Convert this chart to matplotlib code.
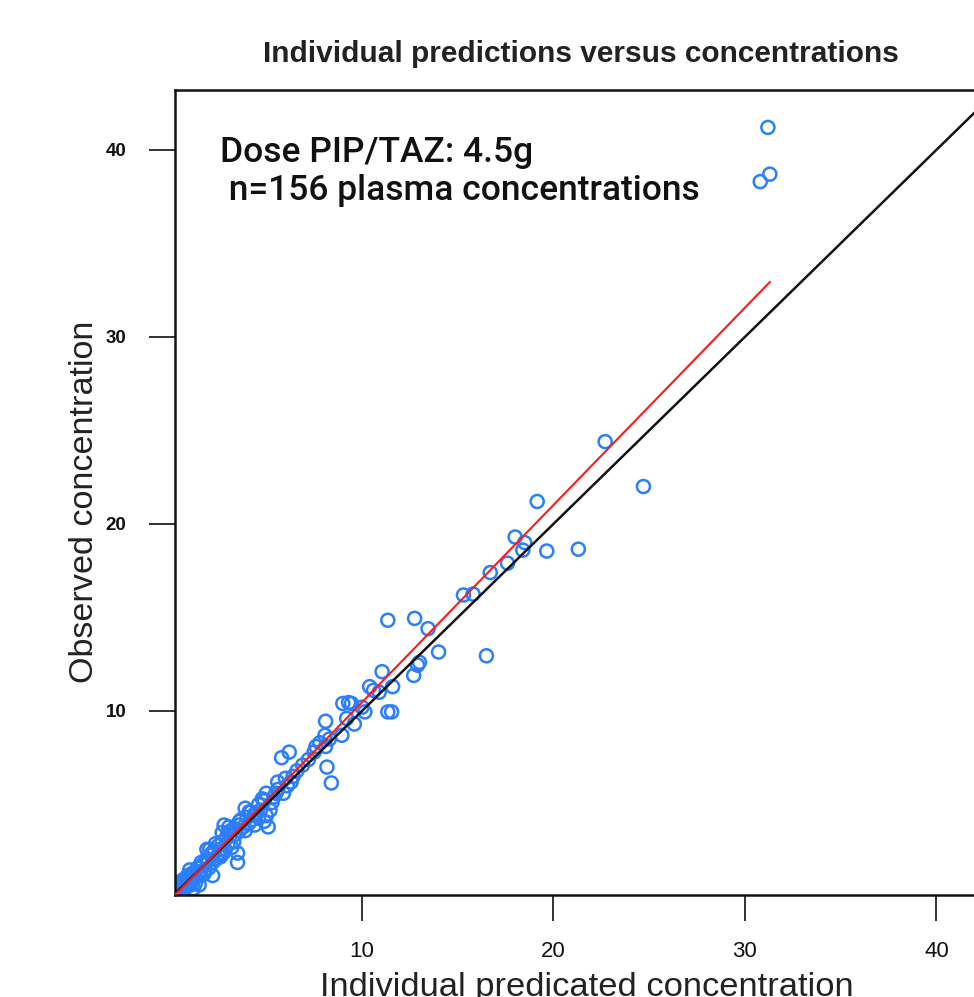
import numpy as np
import matplotlib
matplotlib.use("Agg")
import matplotlib.pyplot as plt

# individual predicted vs observed concentrations
pred_high = [31.2, 30.8, 31.3, 22.7, 24.7, 19.15, 18.0, 18.5, 18.4, 19.65,
             21.3, 17.6, 16.7, 15.3, 15.8, 16.5, 14.0, 13.45, 12.75, 11.35,
             12.9, 12.7, 13.0, 11.05, 11.6, 10.4, 10.6, 10.9, 11.35, 11.55,
             10.15, 10.0]
obs_high = [41.2, 38.3, 38.7, 24.4, 22.0, 21.2, 19.3, 19.0, 18.6, 18.55,
            18.65, 17.9, 17.4, 16.2, 16.25, 12.95, 13.15, 14.4, 14.95, 14.85,
            12.45, 11.9, 12.6, 12.1, 11.3, 11.3, 11.1, 11.0, 9.95, 9.95,
            9.95, 10.2]

pred_mid = [9.0, 9.45, 9.3, 9.2, 9.6, 8.1, 8.95, 8.07, 7.8, 7.6,
            8.1, 8.3, 8.17, 8.4, 5.8, 6.2, 6.9, 5.6, 6.4, 6.1,
            6.3, 5.0, 5.9, 5.4, 5.2, 4.9, 5.1, 4.5, 3.9, 4.3,
            3.6, 2.8, 2.7, 3.5, 3.5, 3.2, 1.9, 2.2, 2.2, 1.0,
            0.7, 1.5]
obs_mid = [10.4, 10.4, 10.45, 9.6, 9.3, 9.45, 8.7, 8.7, 8.3, 8.1,
           8.1, 8.5, 7.0, 6.15, 7.5, 7.8, 7.1, 6.2, 6.5, 6.0,
           6.2, 5.6, 5.6, 5.4, 4.7, 4.1, 3.8, 4.5, 4.8, 4.2,
           3.9, 3.9, 3.5, 2.4, 1.9, 2.7, 2.6, 1.9, 1.2, 1.5,
           1.0, 0.7]

pred_low = [0.3, 0.4, 0.5, 0.5, 0.6, 0.7, 0.8, 0.8, 0.9, 1.0,
            1.1, 1.2, 1.2, 1.3, 1.4, 1.5, 1.6, 1.7, 1.8, 2.0,
            2.0, 2.1, 2.3, 2.4, 2.5, 2.5, 2.6, 2.7, 2.9, 3.0,
            3.0, 3.1, 3.3, 3.4, 3.6, 3.7, 3.8, 4.0, 4.1, 4.2,
            4.4, 4.6, 4.7, 4.8, 5.3, 5.5, 0.2, 0.35, 0.45, 0.6,
            0.65, 0.9, 1.1, 1.3, 1.6, 1.75, 1.9, 2.05, 2.35, 2.6,
            2.85, 3.05, 3.3, 3.6, 3.9, 4.1, 4.4, 4.6, 4.9, 5.0,
            5.6, 6.0, 6.6, 7.2, 7.5, 0.25, 0.55, 1.05, 1.45, 2.15,
            2.75, 3.15]
obs_low = [0.3, 0.5, 0.4, 0.7, 0.6, 0.9, 0.6, 1.0, 0.8, 1.1,
           0.9, 1.3, 0.5, 1.1, 1.6, 1.4, 1.2, 1.8, 1.5, 2.0,
           1.6, 2.3, 2.5, 2.1, 2.8, 2.3, 2.6, 3.0, 3.2, 2.9,
           3.5, 3.3, 3.7, 3.4, 3.6, 4.2, 3.8, 4.3, 4.0, 4.6,
           4.5, 4.3, 4.7, 5.3, 5.1, 5.6, 0.25, 0.2, 0.3, 0.3,
           0.8, 1.2, 1.3, 0.8, 1.9, 1.3, 2.1, 2.6, 2.9, 2.2,
           2.6, 3.8, 3.0, 4.1, 3.6, 4.6, 3.9, 5.0, 5.2, 4.4,
           5.8, 6.4, 6.8, 7.4, 7.8, 0.4, 0.9, 0.7, 1.2, 2.4,
           2.4, 3.6]

# regression line (red) as drawn in the picture
fit_slope = 1.055
fit_intercept = -0.09

title = "Individual predictions versus concentrations"
note1 = "Dose PIP/TAZ: 4.5g"
note2 = " n=156 plasma concentrations"
xlab = "Individual predicated concentration"
ylab = "Observed concentration"
ticks = [10, 20, 30, 40]

xx = np.array(pred_high + pred_mid + pred_low)
yy = np.array(obs_high + obs_mid + obs_low)

W, H = 974, 997
fig = plt.figure(figsize=(W / 100, H / 100), dpi=100)
ax = fig.add_axes([175 / W, 1 - 895 / H, (1013 - 175) / W, (895 - 90) / H])

ax.scatter(xx, yy, s=88, facecolors='none', edgecolors='#2b7fff', linewidths=1.8, zorder=2)
ax.axline((0, 0), slope=1, color='#111111', lw=1.8, zorder=3)
xs = np.array([xx.min(), xx.max()])
ax.plot(xs, fit_slope * xs + fit_intercept, color='#ff1a1a', lw=1.5, zorder=4)

ax.set_xlim(0.235, 44.0)
ax.set_ylim(0.16, 43.2)
ax.set_xticks(ticks)
ax.set_yticks(ticks)
ax.tick_params(axis='x', length=19, width=1.2, pad=14, labelsize=16, colors='#111111')
ax.tick_params(axis='y', length=19, width=1.2, pad=16, labelsize=13.5, colors='#111111')
for lab in ax.get_yticklabels():
    lab.set_fontweight('bold')
    lab.set_family('Liberation Sans')
for lab in ax.get_xticklabels():
    lab.set_family('Liberation Sans')
for sp in ax.spines.values():
    sp.set_linewidth(1.8)
    sp.set_color('#111111')

fig.text(581 / W, 1 - 62 / H, title, ha='center', va='baseline', fontsize=21.5,
         fontweight='bold', family='Liberation Sans', color='#222222')
fig.text(220 / W, 1 - 162 / H, note1, ha='left', va='baseline', fontsize=25.5,
         family='Roboto', fontweight='medium', color='#111111')
fig.text(220 / W, 1 - 200 / H, note2, ha='left', va='baseline', fontsize=25.5,
         family='Roboto', fontweight='medium', color='#111111')
fig.text(587 / W, 1 - 972 / H, xlab, ha='center', va='top', fontsize=24.8,
         family='Liberation Sans', color='#222222')
fig.text(85 / W, 495 / H, ylab, ha='center', va='center', rotation=90, fontsize=24.6,
         family='Liberation Sans', color='#222222')

fig.savefig('out.png', dpi=100, facecolor='white')
